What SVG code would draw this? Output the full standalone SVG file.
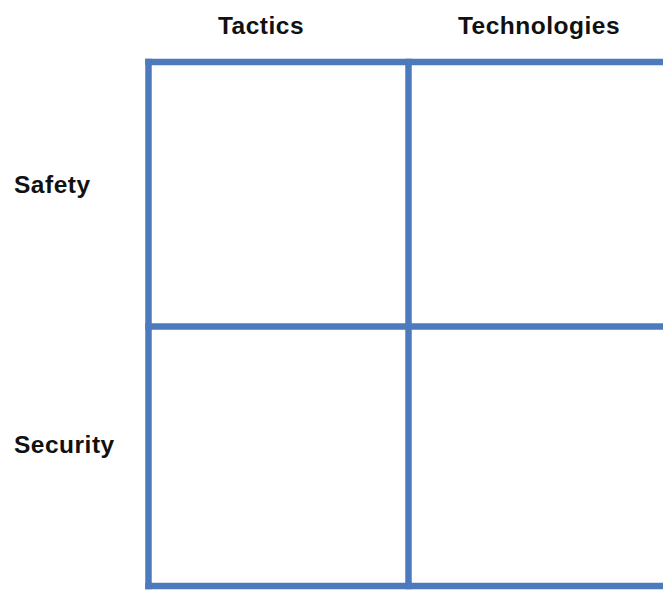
<svg xmlns="http://www.w3.org/2000/svg" width="663" height="590" viewBox="0 0 663 590">
<style>
.lbl{font-family:"Liberation Sans",Arial,Helvetica,sans-serif;font-weight:bold;font-size:24.5px;fill:#111111;letter-spacing:0.5px}
.grid{stroke:#4c7abd;stroke-width:6.5;fill:none;stroke-linecap:square}
</style>
<rect width="663" height="590" fill="#ffffff"/>
<g id="connectors">
<line class="grid" x1="148.5" y1="62" x2="666" y2="62"/>
<line class="grid" x1="148.5" y1="326.5" x2="666" y2="326.5"/>
<line class="grid" x1="148.5" y1="586" x2="666" y2="586"/>
<line class="grid" x1="148.5" y1="62" x2="148.5" y2="586"/>
<line class="grid" x1="408.5" y1="62" x2="408.5" y2="586"/>
</g>
<g id="col-tactics"><text class="lbl" x="261" y="34" text-anchor="middle">Tactics</text></g>
<g id="col-technologies"><text class="lbl" x="539" y="34" text-anchor="middle">Technologies</text></g>
<g id="row-safety"><text class="lbl" x="14" y="192.5">Safety</text></g>
<g id="row-security"><text class="lbl" x="14" y="452.5">Security</text></g>
</svg>
